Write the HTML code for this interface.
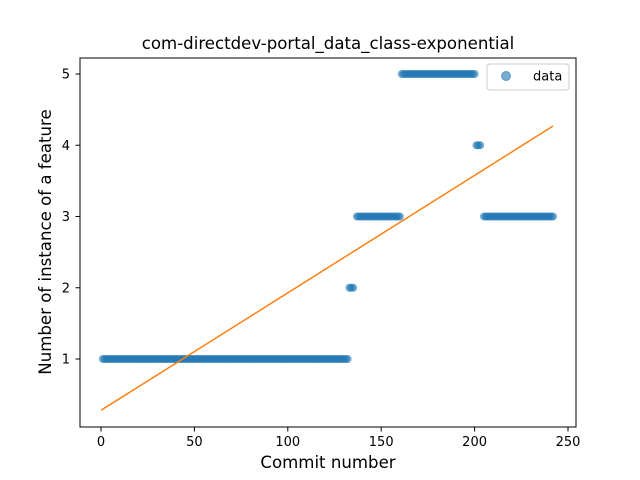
<!DOCTYPE html>
<html><head><meta charset="utf-8"><style>body{margin:0;background:#fff}svg{display:block;font-family:"DejaVu Sans","Liberation Sans",sans-serif}</style></head>
<body>
<svg width="640" height="480" id="chart">
<rect width="640" height="480" fill="#fff"/>
<text x="328" y="49" text-anchor="middle" font-size="16.6">com-directdev-portal_data_class-exponential</text>
<g id="plot"></g>
<rect x="80" y="58" width="496" height="369" fill="none" stroke="#000" stroke-width="1"/>
<g id="ticks" font-size="13"></g>
<text x="328" y="468" text-anchor="middle" font-size="16.6">Commit number</text>
<text transform="translate(51,242) rotate(-90)" text-anchor="middle" font-size="16.6">Number of instance of a feature</text>
<g>
<rect x="487" y="64" width="82" height="26" rx="3" fill="#fff" stroke="#ccc"/>
<circle cx="506" cy="76" r="4.5" fill="#1f77b4" fill-opacity="0.6" stroke="#1f77b4" stroke-opacity="0.6"/>
<text x="533" y="80.5" font-size="13">data</text>
</g>
</svg>
<script>
const yValues = [
1,1,1,1,1,1,1,1,1,1,1,1, 1,1,1,1,1,1,1,1,1,1,1,1, 1,1,1,1,1,1,1,1,1,1,1,1,
1,1,1,1,1,1,1,1,1,1,1,1, 1,1,1,1,1,1,1,1,1,1,1,1, 1,1,1,1,1,1,1,1,1,1,1,1,
1,1,1,1,1,1,1,1,1,1,1,1, 1,1,1,1,1,1,1,1,1,1,1,1, 1,1,1,1,1,1,1,1,1,1,1,1,
1,1,1,1,1,1,1,1,1,1,1,1, 1,1,1,1,1,1,1,1,1,1,1,1,
2,2,2,
null,3,3,3,3,3,3,3,3,3,3,3,3,3,3,3,3,3,3,3,3,3,3,3,3,
5,5,5,5,5,5,5,5,5,5,5,5,5,5,5,5,5,5,5,5,5,5,5,5,5,5,5,5,5,5,5,5,5,5,5,5,5,5,5,5,
4,4,4,
null,3,3,3,3,3,3,3,3,3,3,3,3,3,3,3,3,3,3,3,3,3,3,3,3,3,3,3,3,3,3,3,3,3,3,3,3,3,3
];
const fitX = [0, 242];
const fitY = [0.28, 4.27];
const xTicks = [0, 50, 100, 150, 200, 250];
const yTicks = [1, 2, 3, 4, 5];
const NS = "http://www.w3.org/2000/svg";
const xs = v => 101 + v * (467 / 250);
const ys = v => 359 - (v - 1) * 71.25;
const plot = document.getElementById('plot');
yValues.forEach((v, i) => {
  if (v === null) return;
  const c = document.createElementNS(NS, 'circle');
  c.setAttribute('cx', xs(i + 1)); c.setAttribute('cy', ys(v)); c.setAttribute('r', 4);
  c.setAttribute('fill', '#1f77b4'); c.setAttribute('fill-opacity', '0.6');
  
  
  plot.appendChild(c);
});
const ln = document.createElementNS(NS, 'line');
ln.setAttribute('x1', xs(fitX[0])); ln.setAttribute('y1', ys(fitY[0]));
ln.setAttribute('x2', xs(fitX[1])); ln.setAttribute('y2', ys(fitY[1]));
ln.setAttribute('stroke', '#ff7f0e'); ln.setAttribute('stroke-width', 1.5);


plot.appendChild(ln);
const tg = document.getElementById('ticks');
xTicks.forEach(t => {
  const l = document.createElementNS(NS, 'line');
  l.setAttribute('x1', xs(t)); l.setAttribute('x2', xs(t)); l.setAttribute('y1', 427); l.setAttribute('y2', 431.5); l.setAttribute('stroke', '#000');
  
  
  tg.appendChild(l);
  const tx = document.createElementNS(NS, 'text');
  tx.setAttribute('x', xs(t)); tx.setAttribute('y', 446); tx.setAttribute('text-anchor', 'middle'); tx.textContent = t;
  
  
  tg.appendChild(tx);
});
yTicks.forEach(t => {
  const l = document.createElementNS(NS, 'line');
  l.setAttribute('x1', 75.5); l.setAttribute('x2', 80); l.setAttribute('y1', ys(t)); l.setAttribute('y2', ys(t)); l.setAttribute('stroke', '#000');
  
  
  tg.appendChild(l);
  const tx = document.createElementNS(NS, 'text');
  tx.setAttribute('x', 70); tx.setAttribute('y', ys(t) + 4.5); tx.setAttribute('text-anchor', 'end'); tx.textContent = t;
  
  
  tg.appendChild(tx);
});
</script>
</body></html>
